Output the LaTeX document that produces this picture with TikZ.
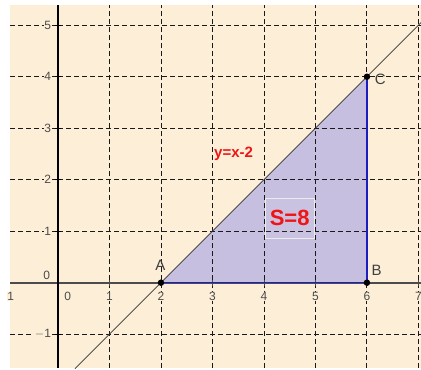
\documentclass[tikz,border=0pt]{standalone}
\usepackage{fontspec}
\setmainfont{Liberation Sans}
\usepackage{tikz}
\definecolor{bgcream}{RGB}{253,239,215}
\definecolor{trifill}{RGB}{199,191,224}
\definecolor{edgeblue}{RGB}{30,30,190}
\definecolor{ticklabel}{RGB}{75,75,75}
\definecolor{labelred}{RGB}{240,20,20}
\tikzset{
  gridline/.style={black!90, line width=0.9pt, dash pattern=on 5pt off 3pt},
  ticklbl/.style={text=ticklabel, fill=bgcream, font=\fontsize{12}{14}\selectfont, inner sep=0.6pt},
  ptlbl/.style={text=black!75, font=\fontsize{15}{17}\selectfont, inner sep=0pt},
  ptdot/.style={circle, fill=black, inner sep=0pt, minimum size=6.5pt}
}

\begin{document}
\begin{tikzpicture}[x=51.5pt, y=51.5pt]
			\def\xl{-0.93}
			\def\xr{7.06}
			\def\yb{-1.66}
			\def\yt{5.39}
			\useasboundingbox (-1.126,-1.695) rectangle (7.05,5.49);

			% Background
			\fill[bgcream] (\xl,\yb) rectangle (\xr,\yt);

			% Points of the triangle
			\coordinate (A) at (2,0);
			\coordinate (B) at (6,0);
			\coordinate (C) at (6,4);
			\coordinate (lineS) at (0.33,-1.67);
			\coordinate (lineE) at (7.06,5.06);

			% Shaded region
			\fill[trifill] (A) -- (B) -- (C) -- cycle;

			% Grid
			\foreach \x in {1,...,7}
				\draw[gridline] (\x,\yb) -- (\x,\yt);
			\foreach \y in {-1,...,5}
				\draw[gridline] (\xl,\y) -- (\xr,\y);

			% Axes
			\draw[black!70, line width=2pt] (\xl,0) -- (\xr,0);
			\draw[black, line width=2pt] (0,\yb) -- (0,\yt);
			\foreach \x in {1,...,7}
				\draw[black!70, line width=0.8pt] (\x,-0.06) -- (\x,0.06);
			\foreach \y in {-1,1,2,3,4,5}
				\draw[black, line width=0.8pt] (-0.06,\y) -- (0.06,\y);

			% Tick labels
			\foreach \y in {1,...,5}
				\node[ticklbl, anchor=east] at (-0.12,\y) {\y};
			\node[ticklbl, anchor=east] at (-0.12,-1) {$-$1};
			\node[ticklbl] at (-0.22,0.14) {0};
			\node[ticklbl] at (0.19,-0.27) {0};
			\node[ticklbl] at (-0.92,-0.27) {1};
			\foreach \x in {1,...,7}
				\node[ticklbl] at (\x,-0.27) {\x};

			% Line y=x-2 and triangle edges
			\draw[black!80, line width=0.8pt] (lineS) -- (lineE);
			\draw[edgeblue, line width=1.6pt] (A) -- (B) -- (C);

			\node[ptdot] (dA) at (A) {};
			\node[ptdot] (dB) at (B) {};
			\node[ptdot] (dC) at (C) {};
			\node[ptlbl] (lA) at (1.99,0.34) {A};
			\node[ptlbl] (lB) at (6.19,0.24) {B};
			\node[ptlbl] (lC) at (6.26,3.95) {C};

			% Labels
			\node[text=labelred, font=\bfseries\fontsize{15}{17}\selectfont] (eq) at (3.41,2.51) {y=x-2};
			\node[text=labelred, font=\bfseries\fontsize{22}{24}\selectfont,
				draw=black!8, fill=white, fill opacity=0.05, text opacity=1,
				minimum width=49pt, minimum height=40pt, inner sep=0pt] (area) at (4.5,1.25) {S=8};

		\end{tikzpicture}
\end{document}
